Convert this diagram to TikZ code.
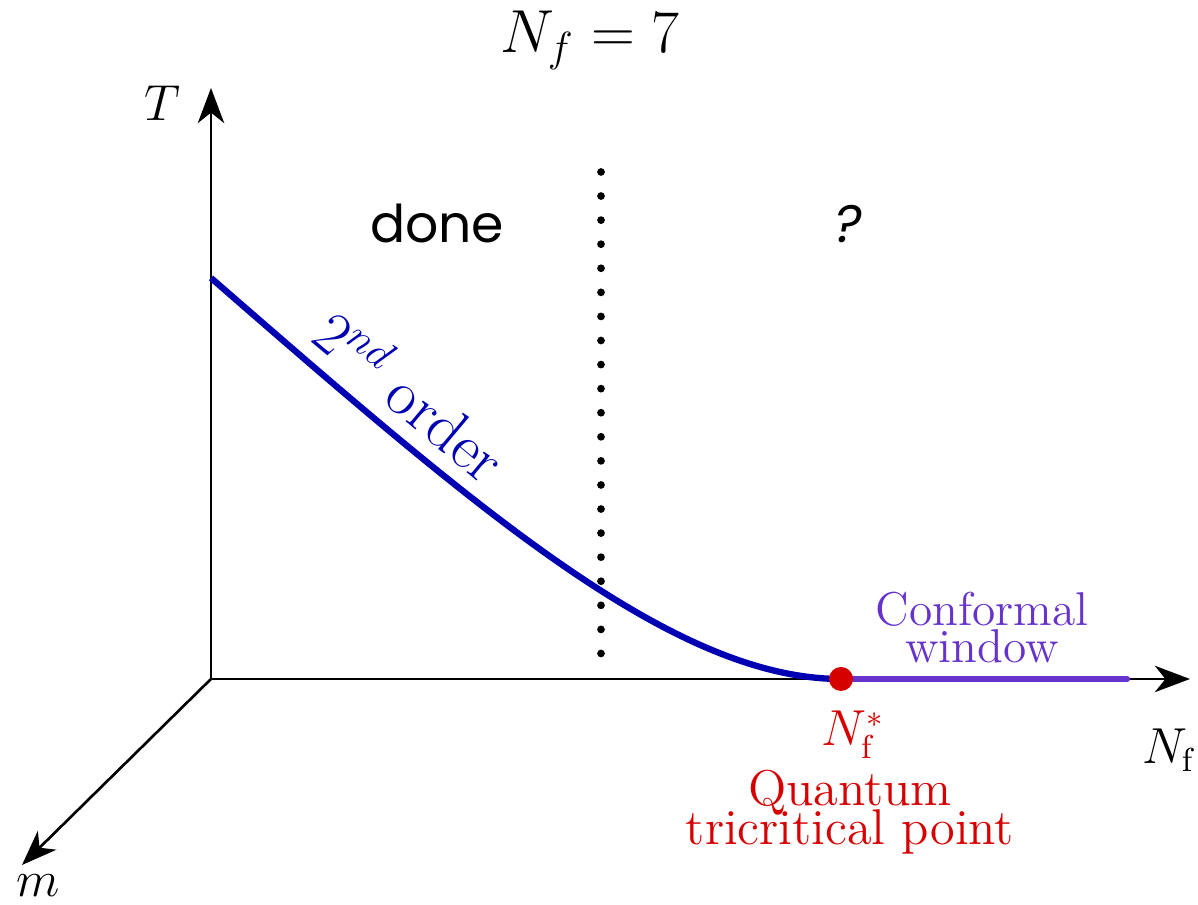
\documentclass[tikz,border=0pt]{standalone}
\definecolor{OrderBlue}{RGB}{0,0,178}
\definecolor{ConfPurple}{RGB}{102,51,204}
\definecolor{TriRed}{RGB}{215,0,0}
\usepackage{fontspec}
\newfontfamily\donefont{Poppins}
\usepackage{tikz}
\usetikzlibrary{arrows.meta, positioning, calc}
\usepackage{amsmath, amssymb}

\begin{document}
\begin{tikzpicture}[
    axis/.style={line width=0.75pt, -{Stealth[length=10pt, width=7.5pt, inset=3pt]}},
    lbl/.style={font=\fontsize{13.5}{15.5}\selectfont, align=center, inner sep=1pt}
  ]
  \useasboundingbox (-2.11,-2.26) rectangle (9.87,6.79);
  \coordinate (O) at (0,0);
  \coordinate (Ttip) at (0,5.91);
  \coordinate (Ntip) at (9.79,0);
  \coordinate (mtip) at (-1.89,-1.86);
  \draw[axis] (O) -- (Ttip);
  \draw[axis] (O) -- (Ntip);
  \draw[axis] (O) -- (mtip);
  \node[lbl] (Tlab) at (-0.49,5.76) {$T$};
  \node[lbl] (Nlab) at (9.57,-0.71) {$N_{\mathrm{f}}$};
  \node[lbl] (mlab) at (-1.73,-2.07) {$m$};

  \node[font=\fontsize{17.5}{20}\selectfont] (title) at (3.79,6.39) {$N_f = 7$};
  \node[font=\donefont\fontsize{14.8}{17}\selectfont] (done) at (2.26,4.55) {done};
  \node[font=\donefont\itshape\fontsize{15}{17}\selectfont] (ask) at (6.37,4.55) {?};

  \coordinate (dtop) at (3.90,5.07);
  \coordinate (dbot) at (3.90,0.23);
  \draw[line width=2.2pt, line cap=round, dash pattern=on 0pt off 6.85pt] (dtop) -- (dbot);

  \coordinate (Tc) at (0,4.01);
  \coordinate (Nstar) at (6.30,0);
  \coordinate (Cend) at (9.16,0);
  \draw[ConfPurple, line width=1.8pt, line cap=round] (Nstar) -- (Cend);
  \draw[OrderBlue, line width=1.8pt] (Tc) .. controls (2.6,1.75) and (4.6,0) .. (Nstar)
    node[pos=0.235, sloped, above=3pt, text=OrderBlue, inner sep=1pt,
         font=\fontsize{18}{20}\selectfont] (order) {$2^{nd}$\ order};
  \fill[TriRed] (Nstar) circle (0.12);

  \node[lbl, text=ConfPurple] (conf) at (7.71,0.51) {Conformal\\[-5pt]window};
  \node[lbl, text=TriRed] (nstarlab) at (6.42,-0.56) {$N_{\mathrm{f}}^{*}$};
  \node[lbl, text=TriRed, font=\fontsize{14.3}{16}\selectfont] (qtp) at (6.39,-1.33) {Quantum\\[-5pt]tricritical point};
\end{tikzpicture}
\end{document}
